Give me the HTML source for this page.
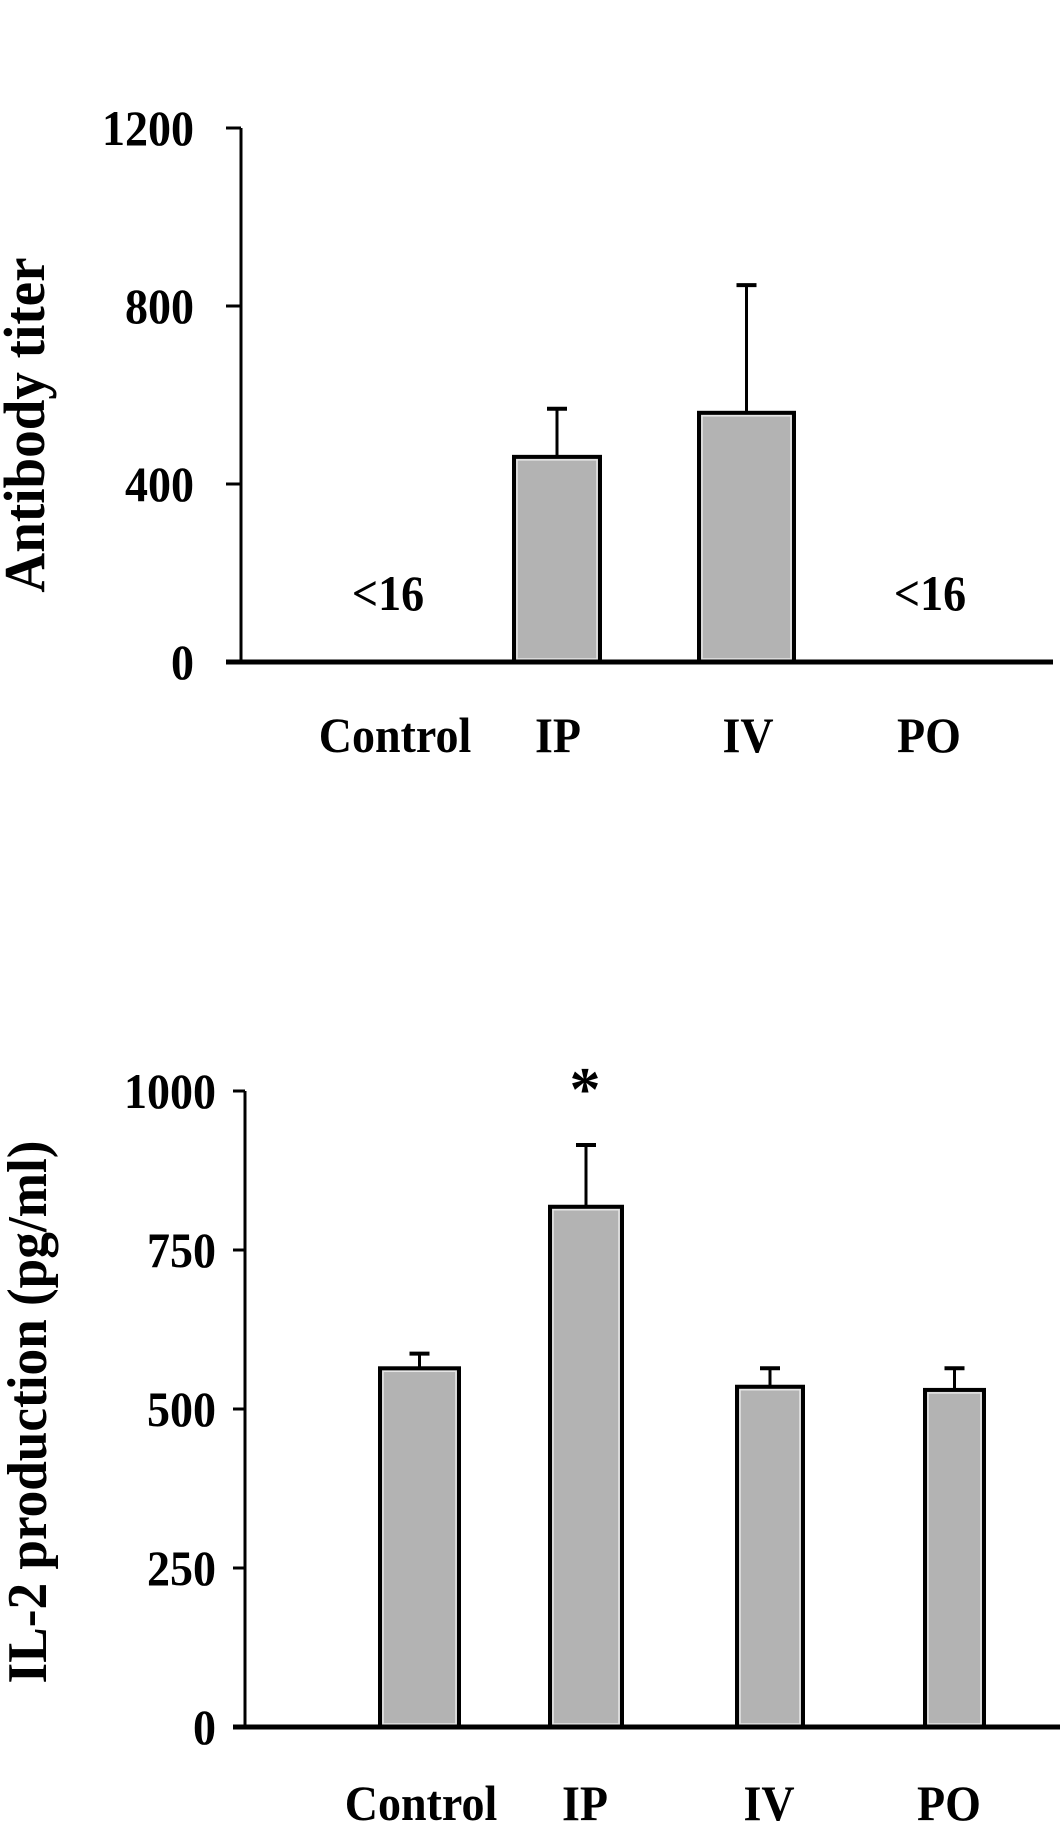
<!DOCTYPE html>
<html><head><meta charset="utf-8"><style>
html,body{margin:0;padding:0;background:#fff}
svg{display:block}
text{font-family:"Liberation Serif",serif;font-weight:bold;fill:#000}
</style></head><body>
<svg id="fig" width="1063" height="1837" viewBox="0 0 1063 1837"></svg>
<script>
const categories = ["Control","IP","IV","PO"];
const antibodyValues = [null, 461, 560, null];
const antibodyErrors = [null, 569, 847, null];
const antibodyTicks = [0, 400, 800, 1200];
const il2Values = [564, 818, 535, 530];
const il2Errors = [587, 915, 564, 564];
const il2Ticks = [0, 250, 500, 750, 1000];

const NS = "http://www.w3.org/2000/svg";
const svg = document.getElementById("fig");
function mk(tag, attrs, parent, txt){
  const e = document.createElementNS(NS, tag);
  for (const k in attrs) e.setAttribute(k, attrs[k]);
  if (txt !== undefined) e.textContent = txt;
  (parent || svg).appendChild(e);
  return e;
}
function condense(t, f){
  const L = t.getComputedTextLength();
  t.setAttribute("textLength", (L * f).toFixed(1));
  t.setAttribute("lengthAdjust", "spacingAndGlyphs");
}

function drawChart(cfg){
  const g = mk("g", {});
  
  
  const y = v => cfg.y0 - v * (cfg.y0 - cfg.yTop) / cfg.max;
  const ya = mk("line", {x1: cfg.ax, y1: y(cfg.max), x2: cfg.ax, y2: cfg.y0, stroke: "#000", "stroke-width": 3}, g);
  
  
  cfg.ticks.forEach(t => {
    const tk = mk("line", {x1: cfg.tickL, y1: y(t), x2: cfg.ax, y2: y(t), stroke: "#000", "stroke-width": 3}, g);
    
    
    const tl = mk("text", {x: cfg.labelR, y: y(t) + 17, "text-anchor": "end", "font-size": 50}, g, String(t));
    
    
    condense(tl, 0.92);
  });
  cfg.values.forEach((v, i) => {
    const [xl, xr] = cfg.barX[i];
    if (v === null) {
      const lt = mk("text", {x: (xl + xr) / 2, y: cfg.ltY, "text-anchor": "middle", "font-size": 50}, g, "<16");
      
      
      condense(lt, 0.92);
      return;
    }
    const cx = (xl + xr) / 2;
    const e = cfg.errors[i];
    const el = mk("line", {x1: cx, y1: y(e), x2: cx, y2: y(v), stroke: "#000", "stroke-width": 3}, g);
    
    
    const ec = mk("line", {x1: cx - 10, y1: y(e), x2: cx + 10, y2: y(e), stroke: "#000", "stroke-width": 4}, g);
    
    
    const b = mk("rect", {x: xl + 2, y: y(v), width: xr - xl - 4, height: cfg.y0 - y(v), fill: "#b3b3b3", stroke: "#000", "stroke-width": 4}, g);
    
    
    const hl = mk("rect", {x: xl + 5, y: y(v) + 3, width: xr - xl - 10, height: cfg.y0 - y(v) - 6, fill: "none", stroke: "#e6e6e6", "stroke-width": 1.5}, g);
    
    
  });
  const xa = mk("line", {x1: cfg.tickL, y1: cfg.y0, x2: cfg.xEnd, y2: cfg.y0, stroke: "#000", "stroke-width": 5}, g);
  
  
  categories.forEach((c, i) => {
    const t = mk("text", {x: cfg.catX[i], y: cfg.catY, "text-anchor": "middle", "font-size": 50}, g, c);
    
    
    condense(t, 0.92);
  });
  const yt = mk("text", {x: 0, y: 0, "text-anchor": "middle", "font-size": cfg.titleSize,
    transform: `translate(${cfg.titleX},${cfg.titleY}) rotate(-90)`}, g, cfg.title);
  
  
  condense(yt, 0.95);
  return y;
}

drawChart({
  name: "antibody-titer-chart", y0: 662, yTop: 128, max: 1200, ax: 241, tickL: 226, labelR: 194, xEnd: 1053,
  ticks: antibodyTicks, values: antibodyValues, errors: antibodyErrors,
  barX: [[330,446],[512,602],[697,796],[870,990]], ltY: 610,
  catX: [395,558,748,929], catY: 752,
  title: "Antibody titer", titleSize: 58, titleX: 44, titleY: 425
});

drawChart({
  name: "il2-production-chart", y0: 1727, yTop: 1091, max: 1000, ax: 245, tickL: 233, labelR: 216, xEnd: 1060,
  ticks: il2Ticks, values: il2Values, errors: il2Errors,
  barX: [[378,461],[548,624],[735,805],[923,986]], ltY: 0,
  catX: [421,585,769,949], catY: 1820,
  title: "IL-2 production (pg/ml)", titleSize: 56, titleX: 46, titleY: 1412
});

const star = mk("text", {x: 585, y: 1110, "text-anchor": "middle", "font-size": 62}, svg, "*");


</script>
</body></html>
